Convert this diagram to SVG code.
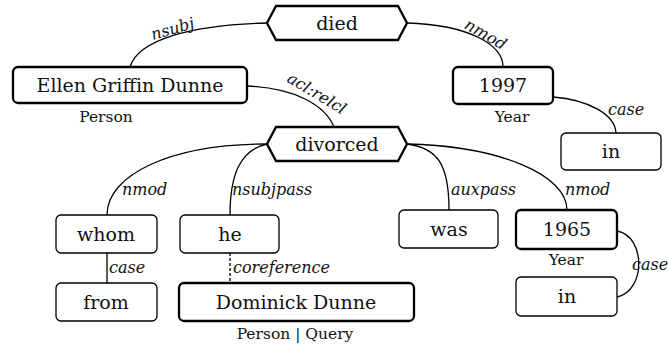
<svg xmlns="http://www.w3.org/2000/svg" width="668" height="344" viewBox="0 0 668 344">
<style>
  .bg { fill: #ffffff; }
  .edge { fill: none; stroke: #000; stroke-width: 1.3; }
  .dash { stroke-dasharray: 3 2; }
  .box { fill: #fff; stroke: #000; stroke-width: 1.3; }
  .thick { stroke-width: 2.3; }
  .t { font-family: "DejaVu Serif", "Liberation Serif", "Noto Serif", serif; font-size: 19px; fill: #111; text-anchor: middle; }
  .sub { font-family: "DejaVu Serif", "Liberation Serif", "Noto Serif", serif; font-size: 15.5px; fill: #111; text-anchor: middle; }
  .lab { font-family: "DejaVu Serif", "Liberation Serif", "Noto Serif", serif; font-size: 16px; font-style: italic; fill: #111; }
  .mid { text-anchor: middle; }
</style>
<rect class="bg" x="0" y="0" width="668" height="344"/>
<g id="connectors">
  <path class="edge" d="M130,67 C138,40 190,25 267,23"/>
  <path class="edge" d="M407,23 C470,25 503,45 503,67"/>
  <path class="edge" d="M247,86 C295,88 325,105 334,127"/>
  <path class="edge" d="M553,97 C590,100 615,115 616,133"/>
  <path class="edge" d="M267,144 C170,144 107,175 107,215"/>
  <path class="edge" d="M267,144 C240,150 230,175 230,215"/>
  <path class="edge" d="M407,144 C438,148 449,165 449,210"/>
  <path class="edge" d="M407,144 C500,146 567,175 567,210"/>
  <path class="edge" d="M107,253 L107,283"/>
  <path class="edge dash" d="M230,253 L230,283"/>
  <path class="edge" d="M617,231 C646,236 646,291 617,297"/>
  <text class="lab mid" transform="translate(174,34) rotate(-16)">nsubj</text>
  <text class="lab mid" transform="translate(483,39) rotate(30)">nmod</text>
  <text class="lab mid" transform="translate(314,98) rotate(31)">acl:relcl</text>
  <text class="lab" x="608" y="115">case</text>
  <text class="lab" x="122" y="195">nmod</text>
  <text class="lab" x="232" y="195">nsubjpass</text>
  <text class="lab" x="451" y="195">auxpass</text>
  <text class="lab" x="565" y="195">nmod</text>
  <text class="lab" x="109" y="273">case</text>
  <text class="lab" x="233" y="273">coreference</text>
  <text class="lab" x="632" y="270">case</text>
</g>
<g id="n-died">
  <polygon class="box thick" points="267,23 276,6 398,6 407,23 398,40 276,40"/>
  <text class="t" x="337" y="30">died</text>
</g>
<g id="n-ellen">
  <rect class="box thick" x="13" y="67" width="234" height="36" rx="5"/>
  <text class="t" x="130" y="92">Ellen Griffin Dunne</text>
  <text class="sub" x="106" y="122">Person</text>
</g>
<g id="n-1997">
  <rect class="box thick" x="453" y="67" width="100" height="37" rx="5"/>
  <text class="t" x="503" y="92">1997</text>
  <text class="sub" x="512" y="122">Year</text>
</g>
<g id="n-in1">
  <rect class="box" x="561" y="133" width="100" height="37" rx="5"/>
  <text class="t" x="611" y="158">in</text>
</g>
<g id="n-divorced">
  <polygon class="box thick" points="267,144 276,127 398,127 407,144 398,161 276,161"/>
  <text class="t" x="337" y="151">divorced</text>
</g>
<g id="n-whom">
  <rect class="box" x="56" y="215" width="101" height="38" rx="5"/>
  <text class="t" x="106" y="241">whom</text>
</g>
<g id="n-he">
  <rect class="box" x="180" y="215" width="99" height="38" rx="5"/>
  <text class="t" x="230" y="241">he</text>
</g>
<g id="n-was">
  <rect class="box" x="399" y="210" width="99" height="38" rx="5"/>
  <text class="t" x="449" y="236">was</text>
</g>
<g id="n-1965">
  <rect class="box thick" x="516" y="210" width="101" height="39" rx="5"/>
  <text class="t" x="567" y="236">1965</text>
  <text class="sub" x="566" y="265">Year</text>
</g>
<g id="n-in2">
  <rect class="box" x="516" y="277" width="101" height="39" rx="5"/>
  <text class="t" x="567" y="303">in</text>
</g>
<g id="n-from">
  <rect class="box" x="56" y="283" width="101" height="38" rx="5"/>
  <text class="t" x="106" y="309">from</text>
</g>
<g id="n-dominick">
  <rect class="box thick" x="179" y="283" width="235" height="38" rx="5"/>
  <text class="t" x="296" y="309">Dominick Dunne</text>
  <text class="sub" x="295" y="339">Person | Query</text>
</g>
</svg>
